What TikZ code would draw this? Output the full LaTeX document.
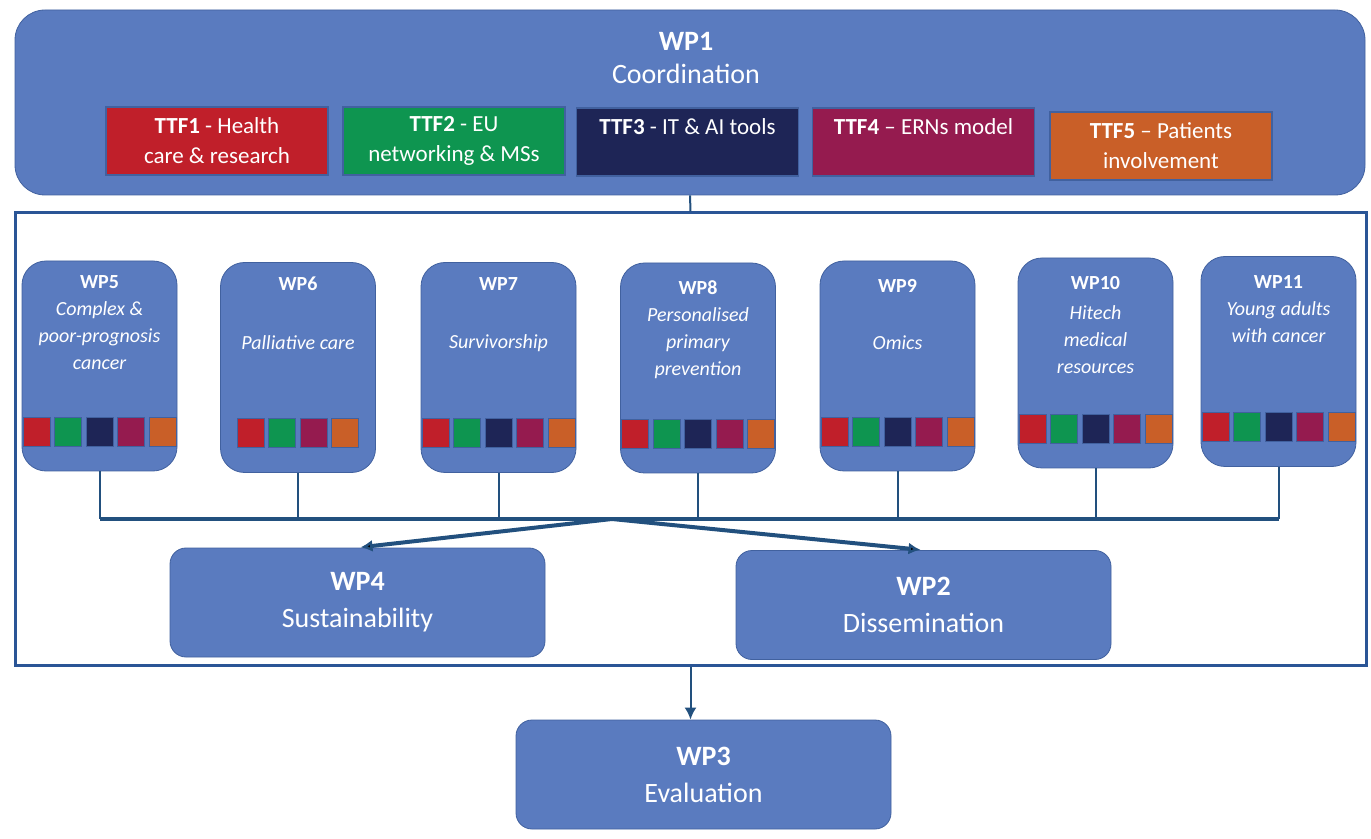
\documentclass[tikz,border=0pt]{standalone}
\usepackage{fontspec}
\setmainfont{Carlito}
\usetikzlibrary{arrows.meta, positioning}

\definecolor{wpblue}{HTML}{5A7BBF}
\definecolor{wpline}{HTML}{41619F}
\definecolor{framecol}{HTML}{2A5596}
\definecolor{linkcol}{HTML}{22507E}
\definecolor{ttfred}{HTML}{C01F2A}
\definecolor{ttfgreen}{HTML}{0E9550}
\definecolor{ttfnavy}{HTML}{1E2556}
\definecolor{ttfpurple}{HTML}{951B4F}
\definecolor{ttforange}{HTML}{C95F28}

\tikzset{
  wp/.style={draw=wpline, fill=wpblue, text=white, align=center, inner sep=0pt},
  wpbox/.style={wp, minimum width=77.5pt, minimum height=105pt, rounded corners=12pt},
  bigwp/.style={wp, minimum width=187.5pt, minimum height=54.5pt, rounded corners=8pt,
    font=\fontsize{14}{18.5}\selectfont},
  ttf/.style={draw=wpline, line width=0.8pt, text=white, align=center, inner sep=0pt,
    minimum width=111pt, minimum height=34pt, font=\fontsize{11.5}{15}\selectfont},
  wptitle/.style={text=white, font=\bfseries\fontsize{10}{13}\selectfont},
  wpsub/.style={text=white, align=center, font=\itshape\fontsize{10}{13.5}\selectfont},
  link/.style={draw=linkcol, line width=1pt},
}

\begin{document}
\begin{tikzpicture}[x=0.5pt, y=-0.5pt, >={Latex[length=6pt,width=6pt]}]
    \fill[white] (0,0) rectangle (1371,839);
    \useasboundingbox (0,0) rectangle (1371,839);
    % coordination
    \node[wp, minimum width=675pt, minimum height=92.5pt, rounded corners=15pt] (wp1) at (690,102.5) {};
    \node[text=white, align=center, font=\fontsize{14}{16.5}\selectfont] (wp1t) at (686,58) {\textbf{WP1}\\Coordination};
    \node[ttf, fill=ttfred] (ttf1) at (217,141) {\textbf{TTF1} - Health\\care \& research};
    \node[ttf, fill=ttfgreen] (ttf2) at (454,141) {\textbf{TTF2} - EU\\networking \& MSs};
    \node[ttf, fill=ttfnavy] (ttf3) at (687.5,142) {\textbf{TTF3} - IT \& AI tools\\\mbox{}};
    \node[ttf, fill=ttfpurple] (ttf4) at (923.5,142) {\textbf{TTF4} -- ERNs model\\\mbox{}};
    \node[ttf, fill=ttforange] (ttf5) at (1161,146) {\textbf{TTF5} -- Patients\\involvement};
    % frame
    \node[draw=framecol, line width=1.5pt, minimum width=675.5pt, minimum height=226pt, inner sep=0pt] (frame) at (690.5,439) {};
    \draw[link] (wp1.south) -- (frame.north);
    % work packages
    \node[wpbox] (wp5) at (99.5,366) {};
    \node[wpbox] (wp6) at (298,367.5) {};
    \node[wpbox] (wp7) at (498.5,367.5) {};
    \node[wpbox] (wp8) at (698,368) {};
    \node[wpbox] (wp9) at (897.5,366) {};
    \node[wpbox] (wp10) at (1095.5,363) {};
    \node[wpbox] (wp11) at (1278.5,361.5) {};
    \node[wptitle] (wp5t) at (99.5,282) {WP5};
    \node[wptitle] (wp6t) at (298,284) {WP6};
    \node[wptitle] (wp7t) at (498.5,284) {WP7};
    \node[wptitle] (wp8t) at (698,288) {WP8};
    \node[wptitle] (wp9t) at (897.5,286) {WP9};
    \node[wptitle] (wp10t) at (1095.5,283) {WP10};
    \node[wptitle] (wp11t) at (1278.5,282) {WP11};
    \node[wpsub] (wp5s) at (99.5,336) {Complex \&\\poor-prognosis\\cancer};
    \node[wpsub] (wp6s) at (298,343) {Palliative care};
    \node[wpsub] (wp7s) at (498.5,343) {Survivorship};
    \node[wpsub] (wp8s) at (698,343) {Personalised\\primary\\prevention};
    \node[wpsub] (wp9s) at (897.5,343) {Omics};
    \node[wpsub] (wp10s) at (1095.5,340) {Hitech\\medical\\resources};
    \node[wpsub] (wp11s) at (1278.5,322) {Young adults\\with cancer};
    \foreach \b/\off/\cols in {wp5/-63/{ttfred,ttfgreen,ttfnavy,ttfpurple,ttforange},
        wp6/-47.25/{ttfred,ttfgreen,ttfpurple,ttforange},
        wp7/-63/{ttfred,ttfgreen,ttfnavy,ttfpurple,ttforange},
        wp8/-63/{ttfred,ttfgreen,ttfnavy,ttfpurple,ttforange},
        wp9/-63/{ttfred,ttfgreen,ttfnavy,ttfpurple,ttforange},
        wp10/-63/{ttfred,ttfgreen,ttfnavy,ttfpurple,ttforange},
        wp11/-63/{ttfred,ttfgreen,ttfnavy,ttfpurple,ttforange}}
      \foreach \col [count=\i] in \cols
        \filldraw[fill=\col, draw=wpline, shift={(\b.south)}] ({\off+(\i-1)*31.5-13.5},-25) rectangle ++(27,-29);
    % outputs
    \node[bigwp] (wp4) at (357.5,602.5) {\textbf{WP4}\\Sustainability};
    \node[bigwp] (wp2) at (923.5,605) {\textbf{WP2}\\Dissemination};
    \node[bigwp] (wp3) at (703.5,774.5) {\textbf{WP3}\\Evaluation};
    % links
    \coordinate (bus) at (612,519);
    \draw[link]
    (wp5.south) -- (wp5.south |- bus)
    (wp6.south) -- (wp6.south |- bus)
    (wp7.south) -- (wp7.south |- bus)
    (wp8.south) -- (wp8.south |- bus)
    (wp9.south) -- (wp9.south |- bus)
    (wp10.south) -- (wp10.south |- bus)
    (wp11.south) -- (wp11.south |- bus);
    \draw[link, line width=1.6pt] (wp5.south |- bus) -- (wp11.south |- bus);
    \draw[link, line width=2pt, shorten >=1.5pt]
    (bus) edge[->] (wp4.north)
    (bus) edge[->] (wp2.north);
    \draw[link, ->] (frame.south) -- (frame.south |- wp3.north);
\end{tikzpicture}
\end{document}
